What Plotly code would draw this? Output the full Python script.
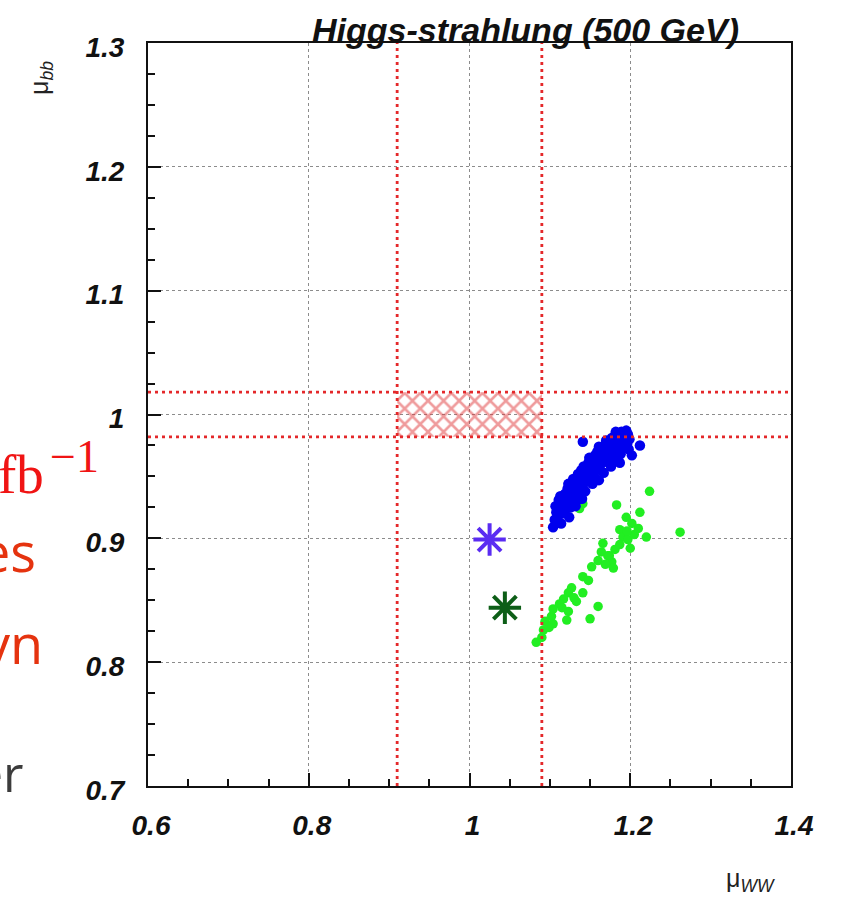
import plotly.graph_objects as go

# ---- axis ticks ----
x_tickvals = [0.6, 0.8, 1.0, 1.2, 1.4]
x_ticktext = ["0.6", "0.8", "1", "1.2", "1.4"]
y_tickvals = [0.7, 0.8, 0.9, 1.0, 1.1, 1.2, 1.3]
y_ticktext = ["0.7", "0.8", "0.9", "1", "1.1", "1.2", "1.3"]

# ---- reference band (SM expectation with uncertainty) ----
band_ww = [0.91, 1.09]
band_bb = [0.982, 1.018]

# ---- benchmark points (asterisks) ----
star_blue_ww, star_blue_bb = [1.025], [0.899]
star_green_ww, star_green_bb = [1.044], [0.844]

# ---- blue model scan ----
blue_ww = [1.104, 1.106, 1.108, 1.110, 1.107, 1.112, 1.114, 1.116, 1.113, 1.118,
           1.120, 1.119, 1.122, 1.124, 1.125, 1.126, 1.123, 1.128, 1.130, 1.131,
           1.129, 1.133, 1.134, 1.136, 1.135, 1.138, 1.140, 1.139, 1.141, 1.143,
           1.144, 1.142, 1.146, 1.147, 1.148, 1.150, 1.151, 1.149, 1.153, 1.154,
           1.155, 1.156, 1.158, 1.157, 1.160, 1.159, 1.162, 1.163, 1.161, 1.165,
           1.166, 1.167, 1.168, 1.169, 1.171, 1.172, 1.170, 1.174, 1.175, 1.176,
           1.177, 1.178, 1.180, 1.179, 1.181, 1.183, 1.184, 1.182, 1.186, 1.187,
           1.188, 1.189, 1.190, 1.192, 1.193, 1.194, 1.195, 1.196, 1.197, 1.199,
           1.198, 1.141, 1.212, 1.202, 1.187, 1.161, 1.140, 1.117, 1.121, 1.127,
           1.137, 1.145, 1.152, 1.164, 1.173, 1.185, 1.191, 1.111, 1.115, 1.132]
blue_bb = [0.909, 0.915, 0.921, 0.918, 0.926, 0.925, 0.912, 0.930, 0.934, 0.921,
           0.927, 0.936, 0.940, 0.917, 0.931, 0.925, 0.944, 0.937, 0.942, 0.929,
           0.948, 0.935, 0.946, 0.940, 0.952, 0.932, 0.948, 0.955, 0.943, 0.951,
           0.938, 0.958, 0.955, 0.946, 0.961, 0.951, 0.958, 0.965, 0.944, 0.962,
           0.953, 0.967, 0.958, 0.948, 0.964, 0.970, 0.956, 0.968, 0.974, 0.961,
           0.971, 0.953, 0.966, 0.976, 0.962, 0.971, 0.979, 0.968, 0.975, 0.958,
           0.981, 0.970, 0.976, 0.964, 0.983, 0.972, 0.979, 0.986, 0.975, 0.983,
           0.968, 0.986, 0.978, 0.984, 0.973, 0.981, 0.987, 0.976, 0.984, 0.980,
           0.972, 0.978, 0.975, 0.967, 0.961, 0.947, 0.932, 0.924, 0.932, 0.941,
           0.944, 0.950, 0.955, 0.965, 0.973, 0.982, 0.980, 0.931, 0.920, 0.926]

# ---- green model scan ----
green_ww = [1.224, 1.183, 1.141, 1.137, 1.212, 1.195, 1.202, 1.187, 1.262, 1.220,
            1.191, 1.187, 1.200, 1.166, 1.164, 1.172, 1.160, 1.177, 1.152, 1.179,
            1.141, 1.148, 1.127, 1.123, 1.141, 1.117, 1.112, 1.133, 1.160, 1.104,
            1.123, 1.102, 1.121, 1.150, 1.094, 1.104, 1.092, 1.090, 1.083, 1.197,
            1.174, 1.205, 1.210, 1.196, 1.181, 1.169, 1.115, 1.099, 1.130]
green_bb = [0.938, 0.927, 0.928, 0.924, 0.921, 0.917, 0.912, 0.907, 0.905, 0.901,
            0.901, 0.895, 0.892, 0.896, 0.889, 0.886, 0.882, 0.881, 0.877, 0.876,
            0.869, 0.866, 0.860, 0.856, 0.856, 0.851, 0.847, 0.849, 0.845, 0.843,
            0.841, 0.837, 0.834, 0.835, 0.833, 0.831, 0.826, 0.820, 0.816, 0.899,
            0.886, 0.903, 0.908, 0.906, 0.891, 0.879, 0.844, 0.828, 0.852]

# ---- plot frame in page pixels ----
W, H = 844, 899
L, R, T, B = 148, 791, 43, 786


def px_x(px):
    return (px - L) / (R - L)


def px_y(py):
    return (B - py) / (B - T)


RED = "#e4282a"
INK = "#111111"
tick_font = dict(family="Liberation Sans", size=28, color=INK,
                 weight="bold", style="italic")

fig = go.Figure()

# hatched band
fig.add_trace(go.Scatter(
    x=[band_ww[0], band_ww[1], band_ww[1], band_ww[0], band_ww[0]],
    y=[band_bb[0], band_bb[0], band_bb[1], band_bb[1], band_bb[0]],
    mode="lines", fill="toself", line=dict(width=0, color=RED),
    fillcolor="rgba(0,0,0,0)",
    fillpattern=dict(shape="x", fgcolor="#e0383a",
                     bgcolor="rgba(255,255,255,0)", size=11, solidity=0.42),
    hoverinfo="skip", showlegend=False))

fig.add_trace(go.Scatter(
    x=green_ww, y=green_bb, mode="markers",
    marker=dict(color="#22ee22", size=9.5, line=dict(width=0)),
    showlegend=False))

fig.add_trace(go.Scatter(
    x=blue_ww, y=blue_bb, mode="markers",
    marker=dict(color="#0000ee", size=10.5, line=dict(width=0)),
    showlegend=False))

fig.add_trace(go.Scatter(
    x=star_blue_ww, y=star_blue_bb, mode="markers",
    marker=dict(symbol="asterisk-open", size=27, color="#5a2cf2",
                line=dict(width=4, color="#5a2cf2")),
    showlegend=False))

fig.add_trace(go.Scatter(
    x=star_green_ww, y=star_green_bb, mode="markers",
    marker=dict(symbol="asterisk-open", size=27, color="#0d5e17",
                line=dict(width=4, color="#0d5e17")),
    showlegend=False))

# dashed band edges across the whole frame
shapes = []
for xv in band_ww:
    shapes.append(dict(type="line", xref="x", yref="paper", x0=xv, x1=xv,
                       y0=0, y1=1, layer="above",
                       line=dict(color=RED, width=2.8, dash="3px,4px")))
for yv in band_bb:
    shapes.append(dict(type="line", xref="paper", yref="y", x0=0, x1=1,
                       y0=yv, y1=yv, layer="above",
                       line=dict(color=RED, width=2.8, dash="3px,4px")))

annotations = [
    dict(text="Higgs-strahlung (500 GeV)", xref="paper", yref="paper",
         x=px_x(741), y=px_y(30), xanchor="right", yanchor="middle",
         showarrow=False,
         font=dict(family="Liberation Sans", size=34, color=INK,
                   weight="bold", style="italic")),
    dict(text="μ<sub><i>bb</i></sub>", xref="paper", yref="paper",
         x=px_x(41), y=px_y(78), xanchor="center", yanchor="middle",
         textangle=-90, showarrow=False,
         font=dict(family="Liberation Sans", size=25, color="#222222")),
    dict(text="μ<sub><i>WW</i></sub>", xref="paper", yref="paper",
         x=px_x(750), y=px_y(880), xanchor="center", yanchor="middle",
         showarrow=False,
         font=dict(family="Liberation Sans", size=25, color="#222222")),
    # text running in from the left
    dict(text="fb", xref="paper", yref="paper",
         x=px_x(46), y=px_y(474), xanchor="right", yanchor="middle",
         showarrow=False,
         font=dict(family="Liberation Serif", size=55, color="#f01414")),
    dict(text="−1", xref="paper", yref="paper",
         x=px_x(48), y=px_y(456), xanchor="left", yanchor="middle",
         showarrow=False,
         font=dict(family="Liberation Serif", size=46, color="#f01414")),
    dict(text="es", xref="paper", yref="paper",
         x=px_x(38), y=px_y(551), xanchor="right", yanchor="middle",
         showarrow=False,
         font=dict(family="Open Sans", size=54, color="#e5330f",
                   weight=500)),
    dict(text="yn", xref="paper", yref="paper",
         x=px_x(45), y=px_y(643), xanchor="right", yanchor="middle",
         showarrow=False,
         font=dict(family="Open Sans", size=54, color="#e5330f",
                   weight=500)),
    dict(text="er", xref="paper", yref="paper",
         x=px_x(26), y=px_y(773), xanchor="right", yanchor="middle",
         showarrow=False,
         font=dict(family="Open Sans", size=50, color="#3c3c3c",
                   weight=500)),
]

axis_common = dict(
    showline=True, linecolor=INK, linewidth=2, mirror=True,
    ticks="inside", ticklen=13, tickwidth=1.5, tickcolor=INK,
    showgrid=True, gridcolor="#8c8c8c", gridwidth=1, griddash="dot",
    zeroline=False, tickfont=tick_font,
)

fig.update_layout(
    width=W, height=H,
    margin=dict(l=L, r=W - R, t=T, b=H - B),
    paper_bgcolor="white", plot_bgcolor="white",
    shapes=shapes, annotations=annotations,
    xaxis=dict(range=[0.6, 1.4], tickvals=x_tickvals, ticktext=x_ticktext,
               minor=dict(dtick=0.05, tick0=0.6, ticks="inside", ticklen=7,
                          tickcolor=INK, showgrid=False),
               ticklabelstandoff=13, ticklabelshift=3, **axis_common),
    yaxis=dict(range=[0.7, 1.3], tickvals=y_tickvals, ticktext=y_ticktext,
               minor=dict(dtick=0.025, tick0=0.7, ticks="inside", ticklen=7,
                          tickcolor=INK, showgrid=False),
               ticklabelstandoff=16, ticklabelshift=4, **axis_common),
)

fig.write_html("out.html")
